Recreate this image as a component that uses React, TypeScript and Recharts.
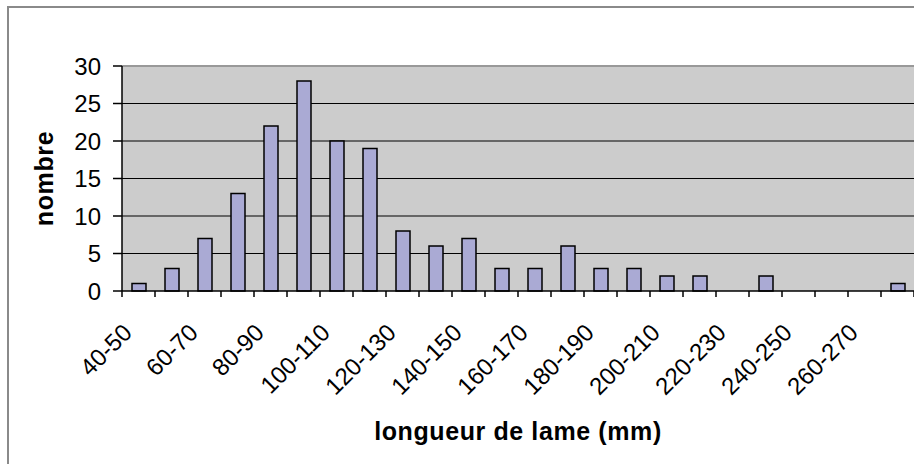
import React from 'react';
import { BarChart, Bar, XAxis, YAxis, CartesianGrid, ReferenceLine, Label } from 'recharts';

const CATEGORIES = [
  '40-50', '50-60', '60-70', '70-80', '80-90', '90-100', '100-110', '110-120',
  '120-130', '130-140', '140-150', '150-160', '160-170', '170-180', '180-190', '190-200',
  '200-210', '210-220', '220-230', '230-240', '240-250', '250-260', '260-270', '270-280',
];
const COUNTS = [1, 3, 7, 13, 22, 28, 20, 19, 8, 6, 7, 3, 3, 6, 3, 3, 2, 2, 0, 2, 0, 0, 0, 1];
const Y_TICKS = [0, 5, 10, 15, 20, 25, 30];
const GRID_VALUES = [5, 10, 15, 20, 25];

const data = CATEGORIES.map((c, i) => ({ cat: c, n: COUNTS[i] }));

const W = 914;
const H = 464;
const PLOT_LEFT = 122;
const PLOT_TOP = 66;
const PLOT_BOTTOM = 291;
const HALF = (W - PLOT_LEFT) / CATEGORIES.length / 2;
const FONT = '"Liberation Sans", Arial, sans-serif';

function XTick(props: any) {
  const { x, y, payload } = props;
  const i = props.index ?? payload.index;
  const ax = x - 5;
  const ay = y + 43;
  return (
    <g>
      <line x1={x - HALF} y1={y} x2={x - HALF} y2={y + 6} stroke="#000" strokeWidth={1.5} />
      {i === CATEGORIES.length - 1 && (
        <line x1={x + HALF} y1={y} x2={x + HALF} y2={y + 6} stroke="#000" strokeWidth={1.5} />
      )}
      {i % 2 === 0 && (
        <text
          x={ax}
          y={ay}
          transform={`rotate(-45 ${ax} ${ay})`}
          textAnchor="end"
          fontSize={24}
          fontFamily={FONT}
          fill="#000"
        >
          {payload.value}
        </text>
      )}
    </g>
  );
}

export default function App() {
  return (
    <div style={{ position: 'absolute', left: 0, top: 0, width: W, height: H, overflow: 'hidden', background: '#fff' }}>
      <div
        style={{
          position: 'absolute',
          left: 7,
          top: 6,
          width: 1000,
          height: 1000,
          border: '2px solid #8a8a8a',
        }}
      />
      <div style={{ position: 'absolute', left: 0, top: 0 }}>
        <BarChart
          width={W}
          height={H}
          data={data}
          margin={{ top: PLOT_TOP, right: 0, bottom: 0, left: 0 }}
          barSize={14}
          style={{ fontFamily: FONT }}
        >
          <CartesianGrid
            vertical={false}
            horizontalValues={GRID_VALUES}
            stroke="#000"
            strokeWidth={1.2}
            fill="#CCCCCC"
            fillOpacity={1}
          />
          <ReferenceLine y={30} stroke="#999" strokeWidth={2} />
          <XAxis
            dataKey="cat"
            height={H - PLOT_BOTTOM}
            interval={0}
            tickLine={false}
            tickSize={0}
            tickMargin={0}
            axisLine={{ stroke: '#000', strokeWidth: 1.5 }}
            tick={<XTick />}
          >
            <Label
              value="longueur de lame (mm)"
              position="insideBottom"
              offset={24}
              fontSize={25}
              fontWeight="bold"
              letterSpacing={0.6}
              fill="#000"
              fontFamily={FONT}
            />
          </XAxis>
          <YAxis
            width={PLOT_LEFT}
            domain={[0, 30]}
            ticks={Y_TICKS}
            interval={0}
            tickSize={9}
            tickMargin={12}
            axisLine={{ stroke: '#000', strokeWidth: 1.5 }}
            tickLine={{ stroke: '#000', strokeWidth: 1.5 }}
            tick={{ fontSize: 24, fill: '#000', fontFamily: FONT }}
          >
            <Label
              content={(p: any) => {
                const vb = p.viewBox || {};
                const cx = 44;
                const cy = (vb.y ?? PLOT_TOP) + (vb.height ?? PLOT_BOTTOM - PLOT_TOP) / 2;
                return (
                  <text
                    x={cx}
                    y={cy}
                    transform={`rotate(-90 ${cx} ${cy})`}
                    textAnchor="middle"
                    dominantBaseline="central"
                    fontSize={25}
                    fontWeight="bold"
                    letterSpacing={0.6}
                    fontFamily={FONT}
                    fill="#000"
                  >
                    nombre
                  </text>
                );
              }}
            />
          </YAxis>
          <Bar
            dataKey="n"
            fill="#AAAAD4"
            stroke="#000"
            strokeWidth={1.5}
            isAnimationActive={false}
          />
        </BarChart>
      </div>
    </div>
  );
}
